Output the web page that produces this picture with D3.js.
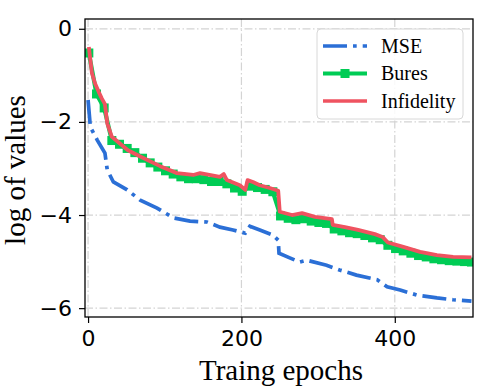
<!DOCTYPE html>
<html>
<head>
<meta charset="utf-8">
<script src="https://cdn.jsdelivr.net/npm/d3@7"></script>
<style>
  body { margin: 0; background: #fff; }
  svg { display: block; }
</style>
</head>
<body>
<svg id="chart" width="498" height="388"></svg>
<script>
// values
const mseEpochs = [0, 3, 12, 22, 25, 33, 51, 68, 90, 111, 133, 155, 172, 189, 205, 211, 224, 241, 248, 249, 263, 276, 285, 311, 328, 350, 377, 390, 407, 429, 455, 476, 500];
const mseValues = [-1.53, -2.11, -2.39, -2.67, -3.03, -3.29, -3.46, -3.68, -3.85, -4.06, -4.13, -4.15, -4.26, -4.32, -4.39, -4.24, -4.32, -4.43, -4.54, -4.82, -4.92, -5.01, -4.97, -5.08, -5.18, -5.29, -5.39, -5.54, -5.61, -5.72, -5.78, -5.82, -5.85];

const buresEpochs = [1, 11, 21, 31, 41, 51, 61, 71, 81, 91, 101, 111, 121, 131, 141, 151, 161, 171, 181, 191, 201, 211, 221, 231, 241, 251, 261, 271, 281, 291, 301, 311, 321, 331, 341, 351, 361, 371, 381, 391, 401, 411, 421, 431, 441, 451, 461, 471, 481, 491, 500];
const buresValues = [-0.52, -1.40, -1.70, -2.40, -2.48, -2.57, -2.66, -2.78, -2.88, -2.97, -3.05, -3.12, -3.18, -3.22, -3.22, -3.24, -3.28, -3.28, -3.33, -3.42, -3.49, -3.38, -3.41, -3.45, -3.50, -4.02, -4.07, -4.10, -4.08, -4.13, -4.16, -4.18, -4.30, -4.34, -4.38, -4.40, -4.44, -4.49, -4.53, -4.65, -4.72, -4.77, -4.82, -4.87, -4.90, -4.94, -4.96, -4.98, -4.99, -5.00, -5.01];

const infEpochs = [1, 5, 9, 14, 18, 22, 25, 31, 52, 70, 94, 116, 137, 146, 172, 177, 181, 198, 205, 208, 215, 224, 237, 248, 250, 266, 279, 296, 318, 319, 335, 352, 374, 384, 391, 410, 433, 455, 476, 500];
const infValues = [-0.39, -0.95, -1.17, -1.36, -1.50, -1.62, -2.03, -2.32, -2.61, -2.76, -2.95, -3.10, -3.14, -3.10, -3.18, -3.12, -3.25, -3.36, -3.46, -3.25, -3.29, -3.36, -3.42, -3.48, -3.93, -4.00, -3.96, -4.04, -4.09, -4.21, -4.26, -4.32, -4.41, -4.47, -4.59, -4.68, -4.79, -4.86, -4.90, -4.91];

const xTicks = [0, 200, 400];
const yTicks = [0, -2, -4, -6];
const seriesNames = ["MSE", "Bures", "Infidelity"];

const colors = { MSE: "#2b6fd6", Bures: "#00cc55", Infidelity: "#ef5360" };

const svg = d3.select("#chart");
const plot = { left: 85, right: 473, top: 19, bottom: 317 };

const x = d3.scaleLinear().domain([-4, 502]).range([plot.left, plot.right]);
const y = d3.scaleLinear().domain([-6.19, 0.21]).range([plot.bottom, plot.top]);

const fmt = d => d < 0 ? "\u2212" + Math.abs(d) : String(d);

// grid
const grid = svg.append("g").attr("class", "grid");
grid.selectAll(".gx").data(xTicks).enter().append("line")
    .attr("x1", d => x(d)).attr("x2", d => x(d))
    .attr("y1", plot.top).attr("y2", plot.bottom);
grid.selectAll(".gy").data(yTicks).enter().append("line")
    .attr("x1", plot.left).attr("x2", plot.right)
    .attr("y1", d => y(d)).attr("y2", d => y(d));
grid.selectAll("line")
    .attr("stroke", "#d4d4d4")
    .attr("stroke-width", 1.2)
    .attr("stroke-dasharray", "8,2.5,1.5,2.5");

// lines
const line = d3.line().x(d => x(d[0])).y(d => y(d[1]));
const zip = (a, b) => a.map((v, i) => [v, b[i]]);

const mseData = zip(mseEpochs, mseValues);
const buresData = zip(buresEpochs, buresValues);
const infData = zip(infEpochs, infValues);

svg.append("clipPath").attr("id", "clip")
    .append("rect")
    .attr("x", plot.left).attr("y", plot.top)
    .attr("width", plot.right - plot.left).attr("height", plot.bottom - plot.top);

const lines = svg.append("g").attr("clip-path", "url(#clip)");

lines.append("path")
    .datum(mseData)
    .attr("fill", "none")
    .attr("stroke", colors.MSE)
    .attr("stroke-width", 3.7)
    .attr("stroke-dasharray", "24,6,3.7,6")
    .attr("d", line);

lines.append("path")
    .datum(buresData)
    .attr("fill", "none")
    .attr("stroke", colors.Bures)
    .attr("stroke-width", 4.2)
    .attr("d", line);

lines.selectAll(".marker")
    .data(buresData)
    .enter().append("rect")
    .attr("class", "marker")
    .attr("x", d => x(d[0]) - 4.5)
    .attr("y", d => y(d[1]) - 4.5)
    .attr("width", 9)
    .attr("height", 9)
    .attr("fill", colors.Bures);

lines.append("path")
    .datum(infData)
    .attr("fill", "none")
    .attr("stroke", colors.Infidelity)
    .attr("stroke-width", 3.8)
    .attr("stroke-linejoin", "round")
    .attr("d", line);

// spines
svg.append("rect")
    .attr("x", plot.left).attr("y", plot.top)
    .attr("width", plot.right - plot.left).attr("height", plot.bottom - plot.top)
    .attr("fill", "none")
    .attr("stroke", "#000")
    .attr("stroke-width", 1.3);

// axes
const xAxis = d3.axisBottom(x).tickValues(xTicks).tickFormat(fmt).tickSize(6).tickPadding(7);
const yAxis = d3.axisLeft(y).tickValues(yTicks).tickFormat(fmt).tickSize(6).tickPadding(7);

const gx = svg.append("g").attr("transform", `translate(0,${plot.bottom})`).call(xAxis);
const gy = svg.append("g").attr("transform", `translate(${plot.left},0)`).call(yAxis);

[gx, gy].forEach(g => {
    g.select(".domain").remove();
    g.selectAll(".tick line").attr("stroke", "#000").attr("stroke-width", 1.2);
    g.selectAll(".tick text")
        .attr("fill", "#000")
        .style("font-family", "'DejaVu Sans', sans-serif")
        .style("font-size", "22px");
});

// axis labels
svg.append("text")
    .attr("x", (plot.left + plot.right) / 2 + 2)
    .attr("y", 380)
    .attr("text-anchor", "middle")
    .style("font-family", "'Liberation Serif', 'Times New Roman', serif")
    .style("font-size", "29px")
    .text("Traing epochs");

svg.append("text")
    .attr("transform", `translate(25,${(plot.top + plot.bottom) / 2 + 2}) rotate(-90)`)
    .attr("text-anchor", "middle")
    .style("font-family", "'Liberation Serif', 'Times New Roman', serif")
    .style("font-size", "29px")
    .text("log of values");

// legend
const legend = svg.append("g").attr("transform", "translate(317,29)");
legend.append("rect")
    .attr("width", 146).attr("height", 90)
    .attr("rx", 4)
    .attr("fill", "#fff").attr("fill-opacity", 0.85)
    .attr("stroke", "#d8d8d8").attr("stroke-width", 1);

const rows = legend.selectAll(".row")
    .data(seriesNames)
    .enter().append("g")
    .attr("transform", (d, i) => `translate(0,${17 + i * 27.5})`);

rows.append("line")
    .attr("x1", 6).attr("x2", 50)
    .attr("stroke", d => colors[d])
    .attr("stroke-width", d => d === "Bures" ? 4 : 3.7)
    .attr("stroke-dasharray", d => d === "MSE" ? "24,6,3.7,6" : null);

rows.filter(d => d === "Bures").append("rect")
    .attr("x", 23.5).attr("y", -4.5)
    .attr("width", 9).attr("height", 9)
    .attr("fill", colors.Bures);

rows.append("text")
    .attr("x", 64)
    .attr("dy", "0.33em")
    .style("font-family", "'Liberation Serif', 'Times New Roman', serif")
    .style("font-size", "20px")
    .text(d => d);
</script>
</body>
</html>
